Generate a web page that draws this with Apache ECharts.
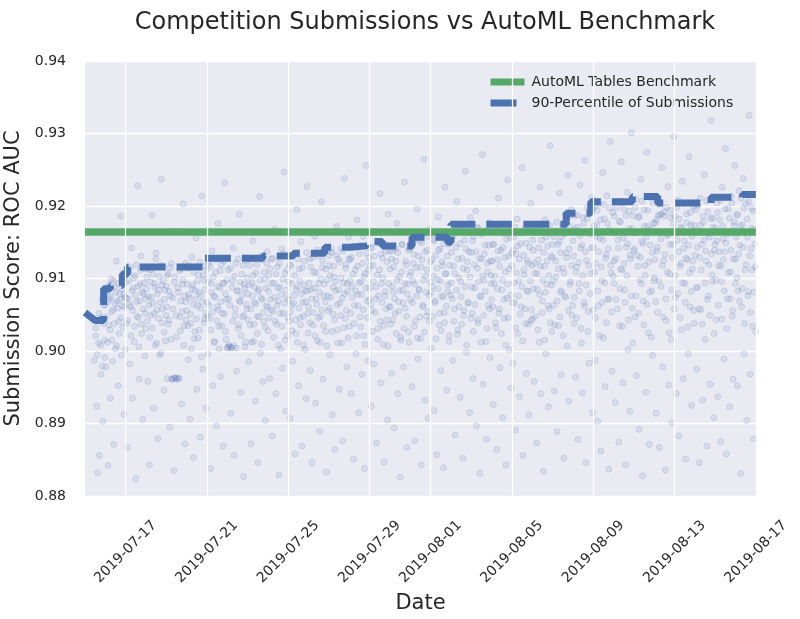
<!DOCTYPE html>
<html><head><meta charset="utf-8">
<script src="https://cdn.jsdelivr.net/npm/echarts@6/dist/echarts.min.js"></script>
<style>html,body{margin:0;padding:0;background:#fff}#chart{width:800px;height:619px}</style>
</head><body><div id="chart"></div>
<script>
const titleText = 'Competition Submissions vs AutoML Benchmark';
const xAxisTitle = 'Date';
const yAxisTitle = 'Submission Score: ROC AUC';
const xRange = ['2019-07-15', '2019-08-17'];
const xTickLabels = ['2019-07-17','2019-07-21','2019-07-25','2019-07-29','2019-08-01','2019-08-05','2019-08-09','2019-08-13','2019-08-17'];
const yMin = 0.88, yMax = 0.94, yStep = 0.01;
const benchmarkName = 'AutoML Tables Benchmark';
const benchmarkScore = 0.9164;
const percentileName = '90-Percentile of Submissions';
const percentile90 = [
 ['2019-07-15 00:00',0.9053],['2019-07-15 12:00',0.9042],['2019-07-15 22:00',0.9042],['2019-07-15 22:00',0.9086],
 ['2019-07-16 06:00',0.9086],['2019-07-16 06:00',0.9090],['2019-07-16 20:00',0.9090],['2019-07-16 20:00',0.9106],
 ['2019-07-17 02:00',0.9106],['2019-07-17 02:00',0.9116],['2019-07-20 19:00',0.9116],['2019-07-20 19:00',0.9128],
 ['2019-07-23 18:00',0.9128],['2019-07-23 18:00',0.9131],['2019-07-25 06:00',0.9131],['2019-07-25 06:00',0.9135],
 ['2019-07-26 19:00',0.9135],['2019-07-26 19:00',0.9143],['2019-07-28 01:00',0.9143],['2019-07-28 01:00',0.9145],
 ['2019-07-28 21:00',0.9145],['2019-07-28 21:00',0.9151],['2019-07-29 15:00',0.9151],['2019-07-29 15:00',0.9145],
 ['2019-07-31 02:00',0.9145],['2019-07-31 02:00',0.9157],['2019-08-01 20:00',0.9157],['2019-08-01 20:00',0.9150],
 ['2019-08-02 00:00',0.9150],['2019-08-02 00:00',0.9175],['2019-08-07 16:00',0.9175],['2019-08-07 16:00',0.9190],
 ['2019-08-08 21:00',0.9190],['2019-08-08 21:00',0.9206],['2019-08-10 22:00',0.9206],['2019-08-10 22:00',0.9213],
 ['2019-08-12 04:00',0.9213],['2019-08-12 04:00',0.9204],['2019-08-14 19:00',0.9204],['2019-08-14 19:00',0.9212],
 ['2019-08-16 08:00',0.9212],['2019-08-16 08:00',0.9216],['2019-08-17 00:00',0.9216]
];
const submissionDays = ['2019-07-15','2019-07-16','2019-07-17','2019-07-18','2019-07-19','2019-07-20','2019-07-21','2019-07-22','2019-07-23','2019-07-24','2019-07-25','2019-07-26','2019-07-27','2019-07-28','2019-07-29','2019-07-30','2019-07-31','2019-08-01','2019-08-02','2019-08-03','2019-08-04','2019-08-05','2019-08-06','2019-08-07','2019-08-08','2019-08-09','2019-08-10','2019-08-11','2019-08-12','2019-08-13','2019-08-14','2019-08-15','2019-08-16'];
// [hour of day, score] — one list per day
const submissionPoints = [
[[11,0.8987],[13,0.9032],[14,0.8924],[16,0.9011],[17,0.8856],[18,0.9046],[19,0.8968],[20,0.9071],[21,0.8903],[22,0.9038],[23,0.9015],[15,0.8832],
 [12.5,0.9021],[14.5,0.8995],[16.5,0.9052],[18.5,0.9008],[20.5,0.8979],[21.5,0.9043],[22.5,0.9063],[23.5,0.8991]],
[[0,0.9064],[1,0.8978],[2,0.9081],[3,0.8842],[4,0.9036],[5,0.9072],[6,0.8935],[7,0.9099],[8,0.9015],[9,0.9057],[10,0.8871],[11,0.9088],[12,0.9003],[13,0.9124],[14,0.9069],[15,0.8952],[16,0.9041],[17,0.9079],[18,0.9186],[19,0.8994],[20,0.9062],[21,0.9108],[22,0.8913],[23,0.9074],
 [0.5,0.9047],[1.5,0.9083],[2.5,0.9012],[3.5,0.9068],[4.5,0.9091],[5.5,0.9029],[6.5,0.9075],[7.5,0.9054],[8.5,0.8986],[9.5,0.9097],[10.5,0.9038],[11.5,0.9066],[12.5,0.9081],[13.5,0.9007],[14.5,0.9059],[15.5,0.9093],[16.5,0.9024],[17.5,0.9071],[18.5,0.9046],[19.5,0.9086],[20.5,0.9033],[21.5,0.9078],[22.5,0.9061],[23.5,0.9002]],
[[0,0.9095],[1,0.9038],[2,0.8867],[3,0.9072],[4,0.9109],[5,0.8982],[6,0.9061],[7,0.9142],[8,0.8935],[9,0.9087],[10,0.9013],[11,0.9104],[12,0.8824],[13,0.9068],[14,0.9228],[15,0.9046],[16,0.8961],[17,0.9092],[18,0.9131],[19,0.9024],[20,0.8906],[21,0.9079],[22,0.9113],[23,0.9052],
 [0.5,0.9073],[1.5,0.9108],[2.5,0.9042],[3.5,0.9097],[4.5,0.9064],[5.5,0.9115],[6.5,0.9021],[7.5,0.9083],[8.5,0.9056],[9.5,0.9101],[10.5,0.9034],[11.5,0.9077],[12.5,0.9119],[13.5,0.9048],[14.5,0.9089],[15.5,0.9006],[16.5,0.9069],[17.5,0.9112],[18.5,0.9037],[19.5,0.9081],[20.5,0.9058],[21.5,0.9094],[22.5,0.8993],[23.5,0.9072]],
[[0,0.9031],[1,0.9102],[2,0.8958],[3,0.9075],[4,0.8843],[5,0.9112],[6,0.9049],[7,0.9187],[8,0.9066],[9,0.8921],[10,0.9093],[11,0.9008],[12,0.9135],[13,0.9057],[14,0.8879],[15,0.9084],[16,0.8994],[17,0.9118],[18,0.9237],[19,0.9039],[20,0.9097],[21,0.8946],[22,0.9071],[23,0.9014],
 [0.5,0.9086],[1.5,0.9041],[2.5,0.9113],[3.5,0.9063],[4.5,0.9019],[5.5,0.9095],[6.5,0.9074],[7.5,0.9032],[8.5,0.9106],[9.5,0.9052],[10.5,0.9088],[11.5,0.9127],[12.5,0.9011],[13.5,0.9079],[14.5,0.9045],[15.5,0.9103],[16.5,0.9067],[17.5,0.8997],[18.5,0.9091],[19.5,0.9058],[20.5,0.9117],[21.5,0.9026],[22.5,0.9084],[23.5,0.9049]],
[[0,0.9089],[1,0.8962],[2,0.9107],[3,0.9043],[4,0.8895],[5,0.9076],[6,0.9121],[7,0.8961],[8,0.9058],[9,0.8835],[10,0.9102],[11,0.8963],[12,0.9019],[13,0.9165],[14,0.9081],[15,0.8962],[16,0.9047],[17,0.9113],[18,0.8927],[19,0.9092],[20,0.9203],[21,0.9035],[22,0.8872],[23,0.9068],
 [0.5,0.9061],[1.5,0.9104],[2.5,0.9037],[3.5,0.9082],[4.5,0.9115],[5.5,0.9016],[6.5,0.8961],[7.5,0.9073],[8.5,0.8963],[9.5,0.9095],[10.5,0.8962],[11.5,0.9049],[12.5,0.8961],[13.5,0.9087],[14.5,0.8963],[15.5,0.9111],[16.5,0.9028],[17.5,0.9069],[18.5,0.9054],[19.5,0.9098],[20.5,0.9008],[21.5,0.9076],[22.5,0.9121],[23.5,0.9043]],
[[0,0.9056],[1,0.9114],[2,0.8988],[3,0.9073],[4,0.8906],[5,0.9038],[6,0.9129],[7,0.9091],[8,0.8853],[9,0.9017],[10,0.9083],[11,0.9156],[12,0.8947],[13,0.9062],[14,0.9105],[15,0.9029],[16,0.8881],[17,0.9077],[18,0.9214],[19,0.8975],[20,0.9098],[21,0.9044],[22,0.9117],[23,0.8921],
 [0.5,0.9092],[1.5,0.9035],[2.5,0.9078],[3.5,0.9118],[4.5,0.9051],[5.5,0.9003],[6.5,0.9086],[7.5,0.9064],[8.5,0.9109],[9.5,0.9027],[10.5,0.9072],[11.5,0.9044],[12.5,0.9097],[13.5,0.9018],[14.5,0.9081],[15.5,0.9123],[16.5,0.9059],[17.5,0.8992],[18.5,0.9068],[19.5,0.9104],[20.5,0.9039],[21.5,0.9085],[22.5,0.9052],[23.5,0.9112]],
[[0,0.9067],[1,0.8996],[2,0.9121],[3,0.9045],[4,0.8838],[5,0.9093],[6,0.9138],[7,0.8952],[8,0.9076],[9,0.9012],[10,0.9109],[11,0.8897],[12,0.9061],[13,0.9176],[14,0.9034],[15,0.9087],[16,0.8965],[17,0.9119],[18,0.9052],[19,0.8869],[20,0.9094],[21,0.9232],[22,0.9027],[23,0.9071],
 [0.5,0.9048],[1.5,0.9096],[2.5,0.9063],[3.5,0.9117],[4.5,0.9029],[5.5,0.9081],[6.5,0.9054],[7.5,0.9102],[8.5,0.9013],[9.5,0.9074],[10.5,0.9126],[11.5,0.9042],[12.5,0.9089],[13.5,0.9057],[14.5,0.9003],[15.5,0.9111],[16.5,0.9068],[17.5,0.9035],[18.5,0.9093],[19.5,0.9124],[20.5,0.9051],[21.5,0.9079],[22.5,0.9016],[23.5,0.9098]],
[[0,0.9005],[1,0.9112],[2,0.9008],[3,0.9063],[4,0.8914],[5,0.9004],[6,0.9097],[7,0.9142],[8,0.8856],[9,0.9049],[10,0.9121],[11,0.8972],[12,0.9083],[13,0.9031],[14,0.9189],[15,0.9068],[16,0.8943],[17,0.9106],[18,0.9047],[19,0.8827],[20,0.9092],[21,0.9006],[22,0.9125],[23,0.9058],
 [0.5,0.9004],[1.5,0.9072],[2.5,0.9006],[3.5,0.9114],[4.5,0.9005],[5.5,0.9088],[6.5,0.9041],[7.5,0.9007],[8.5,0.9103],[9.5,0.9058],[10.5,0.9004],[11.5,0.9083],[12.5,0.9127],[13.5,0.9036],[14.5,0.9069],[15.5,0.9095],[16.5,0.9021],[17.5,0.9077],[18.5,0.9118],[19.5,0.9049],[20.5,0.9086],[21.5,0.9012],[22.5,0.9064],[23.5,0.9101]],
[[0,0.9079],[1,0.8985],[2,0.9118],[3,0.9036],[4,0.8872],[5,0.9094],[6,0.9152],[7,0.9013],[8,0.9067],[9,0.8931],[10,0.9108],[11,0.9048],[12,0.8846],[13,0.9085],[14,0.9213],[15,0.8997],[16,0.9073],[17,0.9126],[18,0.8958],[19,0.9041],[20,0.9099],[21,0.8904],[22,0.9062],[23,0.9137],
 [0.5,0.9043],[1.5,0.9091],[2.5,0.9127],[3.5,0.9058],[4.5,0.9012],[5.5,0.9076],[6.5,0.9104],[7.5,0.9037],[8.5,0.9088],[9.5,0.9065],[10.5,0.9119],[11.5,0.9024],[12.5,0.9082],[13.5,0.9047],[14.5,0.9098],[15.5,0.9131],[16.5,0.9009],[17.5,0.9071],[18.5,0.9053],[19.5,0.9109],[20.5,0.9033],[21.5,0.9087],[22.5,0.9121],[23.5,0.9061]],
[[0,0.9028],[1,0.9104],[2,0.8962],[3,0.9071],[4,0.9127],[5,0.8883],[6,0.9055],[7,0.9094],[8,0.9168],[9,0.8941],[10,0.9037],[11,0.9116],[12,0.9069],[13,0.8829],[14,0.9088],[15,0.9003],[16,0.9141],[17,0.8976],[18,0.9052],[19,0.9247],[20,0.9107],[21,0.8917],[22,0.9074],[23,0.9021],
 [0.5,0.9082],[1.5,0.9046],[2.5,0.9113],[3.5,0.9057],[4.5,0.9093],[5.5,0.9128],[6.5,0.9019],[7.5,0.9074],[8.5,0.9041],[9.5,0.9106],[10.5,0.9063],[11.5,0.9087],[12.5,0.9008],[13.5,0.9121],[14.5,0.9052],[15.5,0.9078],[16.5,0.9034],[17.5,0.9099],[18.5,0.9134],[19.5,0.9066],[20.5,0.9015],[21.5,0.9084],[22.5,0.9112],[23.5,0.9047]],
[[0,0.9096],[1,0.9041],[2,0.8907],[3,0.9118],[4,0.9063],[5,0.8986],[6,0.9132],[7,0.9077],[8,0.8858],[9,0.9024],[10,0.9195],[11,0.9089],[12,0.8952],[13,0.9113],[14,0.9046],[15,0.9151],[16,0.8869],[17,0.9067],[18,0.9008],[19,0.9124],[20,0.9083],[21,0.8934],[22,0.9227],[23,0.9052],
 [0.5,0.9071],[1.5,0.9119],[2.5,0.9054],[3.5,0.9093],[4.5,0.9028],[5.5,0.9131],[6.5,0.9066],[7.5,0.9104],[8.5,0.9043],[9.5,0.9085],[10.5,0.9012],[11.5,0.9127],[12.5,0.9059],[13.5,0.9097],[14.5,0.9036],[15.5,0.9079],[16.5,0.9115],[17.5,0.9048],[18.5,0.9091],[19.5,0.9002],[20.5,0.9068],[21.5,0.9136],[22.5,0.9083],[23.5,0.9025]],
[[0,0.9061],[1,0.9127],[2,0.8973],[3,0.9085],[4,0.8846],[5,0.9036],[6,0.9109],[7,0.9158],[8,0.8928],[9,0.9072],[10,0.9014],[11,0.9131],[12,0.9093],[13,0.8889],[14,0.9048],[15,0.9206],[16,0.9115],[17,0.8961],[18,0.9076],[19,0.9139],[20,0.9027],[21,0.8833],[22,0.9098],[23,0.9055],
 [0.5,0.9094],[1.5,0.9039],[2.5,0.9116],[3.5,0.9072],[4.5,0.9129],[5.5,0.9053],[6.5,0.9087],[7.5,0.9021],[8.5,0.9108],[9.5,0.9064],[10.5,0.9139],[11.5,0.9046],[12.5,0.9081],[13.5,0.9012],[14.5,0.9099],[15.5,0.9057],[16.5,0.9124],[17.5,0.9035],[18.5,0.9092],[19.5,0.9068],[20.5,0.9113],[21.5,0.9007],[22.5,0.9076],[23.5,0.9132]],
[[0,0.9118],[1,0.8995],[2,0.9074],[3,0.9136],[4,0.8912],[5,0.9051],[6,0.9102],[7,0.8864],[8,0.9083],[9,0.9172],[10,0.9029],[11,0.9127],[12,0.8947],[13,0.9066],[14,0.9141],[15,0.9011],[16,0.8876],[17,0.9094],[18,0.9238],[19,0.9045],[20,0.9119],[21,0.8978],[22,0.9082],[23,0.9157],
 [0.5,0.9059],[1.5,0.9104],[2.5,0.9141],[3.5,0.9027],[4.5,0.9088],[5.5,0.9117],[6.5,0.9043],[7.5,0.9096],[8.5,0.9132],[9.5,0.9064],[10.5,0.9011],[11.5,0.9085],[12.5,0.9123],[13.5,0.9049],[14.5,0.9101],[15.5,0.9073],[16.5,0.9138],[17.5,0.9032],[18.5,0.9079],[19.5,0.9114],[20.5,0.9056],[21.5,0.9093],[22.5,0.9018],[23.5,0.9127]],
[[0,0.9034],[1,0.9126],[2,0.8941],[3,0.9089],[4,0.9145],[5,0.8851],[6,0.9063],[7,0.9112],[8,0.8996],[9,0.9181],[10,0.9078],[11,0.8915],[12,0.9134],[13,0.9047],[14,0.9096],[15,0.8968],[16,0.9158],[17,0.9021],[18,0.8838],[19,0.9107],[20,0.9256],[21,0.9069],[22,0.8987],[23,0.9128],
 [0.5,0.9097],[1.5,0.9052],[2.5,0.9129],[3.5,0.9074],[4.5,0.9106],[5.5,0.9038],[6.5,0.9143],[7.5,0.9083],[8.5,0.9021],[9.5,0.9117],[10.5,0.9062],[11.5,0.9094],[12.5,0.9146],[13.5,0.9033],[14.5,0.9078],[15.5,0.9121],[16.5,0.9057],[17.5,0.9103],[18.5,0.9009],[19.5,0.9087],[20.5,0.9135],[21.5,0.9046],[22.5,0.9112],[23.5,0.9071]],
[[0,0.9087],[1,0.9143],[2,0.8924],[3,0.9056],[4,0.9118],[5,0.8982],[6,0.9164],[7,0.9072],[8,0.8873],[9,0.9105],[10,0.9031],[11,0.9149],[12,0.9217],[13,0.8956],[14,0.9093],[15,0.9128],[16,0.9009],[17,0.8847],[18,0.9076],[19,0.9137],[20,0.9043],[21,0.8905],[22,0.9189],[23,0.9061],
 [0.5,0.9118],[1.5,0.9064],[2.5,0.9142],[3.5,0.9027],[4.5,0.9096],[5.5,0.9131],[6.5,0.9053],[7.5,0.9088],[8.5,0.9149],[9.5,0.9016],[10.5,0.9076],[11.5,0.9112],[12.5,0.9041],[13.5,0.9134],[14.5,0.9067],[15.5,0.9101],[16.5,0.9035],[17.5,0.9145],[18.5,0.9082],[19.5,0.9058],[20.5,0.9123],[21.5,0.9007],[22.5,0.9093],[23.5,0.9138]],
[[0,0.9113],[1,0.9037],[2,0.8969],[3,0.9138],[4,0.9081],[5,0.8894],[6,0.9052],[7,0.9124],[8,0.9176],[9,0.8941],[10,0.9068],[11,0.9102],[12,0.8826],[13,0.9015],[14,0.9147],[15,0.9084],[16,0.8978],[17,0.9233],[18,0.9059],[19,0.9119],[20,0.8867],[21,0.9092],[22,0.9026],[23,0.9141],
 [0.5,0.9061],[1.5,0.9127],[2.5,0.9089],[3.5,0.9043],[4.5,0.9116],[5.5,0.9072],[6.5,0.9141],[7.5,0.9024],[8.5,0.9098],[9.5,0.9136],[10.5,0.9055],[11.5,0.9083],[12.5,0.9019],[13.5,0.9109],[14.5,0.9147],[15.5,0.9066],[16.5,0.9031],[17.5,0.9093],[18.5,0.9124],[19.5,0.9048],[20.5,0.9079],[21.5,0.9139],[22.5,0.9012],[23.5,0.9104]],
[[0,0.9071],[1,0.9148],[2,0.8951],[3,0.9097],[4,0.9133],[5,0.8876],[6,0.9042],[7,0.9115],[8,0.9196],[9,0.8989],[10,0.9084],[11,0.9152],[12,0.9017],[13,0.8843],[14,0.9126],[15,0.9061],[16,0.9264],[17,0.8932],[18,0.9103],[19,0.9048],[20,0.9139],[21,0.8907],[22,0.9077],[23,0.9168],
 [0.5,0.9109],[1.5,0.9143],[2.5,0.9067],[3.5,0.9121],[4.5,0.9034],[5.5,0.9092],[6.5,0.9154],[7.5,0.9076],[8.5,0.9018],[9.5,0.9131],[10.5,0.9085],[11.5,0.9047],[12.5,0.9116],[13.5,0.9149],[14.5,0.9063],[15.5,0.9098],[16.5,0.9026],[17.5,0.9137],[18.5,0.9081],[19.5,0.9112],[20.5,0.9054],[21.5,0.9158],[22.5,0.9041],[23.5,0.9095]],
[[0,0.9123],[1,0.9004],[2,0.9089],[3,0.9154],[4,0.8918],[5,0.9067],[6,0.9132],[7,0.8857],[8,0.9098],[9,0.9185],[10,0.9036],[11,0.9141],[12,0.8973],[13,0.9076],[14,0.9118],[15,0.8839],[16,0.9053],[17,0.9226],[18,0.9107],[19,0.8946],[20,0.9082],[21,0.9147],[22,0.9021],[23,0.9164],
 [0.5,0.9081],[1.5,0.9126],[2.5,0.9048],[3.5,0.9103],[4.5,0.9152],[5.5,0.9069],[6.5,0.9017],[7.5,0.9114],[8.5,0.9086],[9.5,0.9139],[10.5,0.9052],[11.5,0.9097],[12.5,0.9028],[13.5,0.9123],[14.5,0.9074],[15.5,0.9148],[16.5,0.9039],[17.5,0.9106],[18.5,0.9062],[19.5,0.9131],[20.5,0.9091],[21.5,0.9013],[22.5,0.9118],[23.5,0.9077]],
[[0,0.9094],[1,0.9162],[2,0.8987],[3,0.9117],[4,0.9058],[5,0.8884],[6,0.9143],[7,0.9206],[8,0.9029],[9,0.9101],[10,0.9171],[11,0.8936],[12,0.9075],[13,0.9128],[14,0.8852],[15,0.9049],[16,0.9153],[17,0.9248],[18,0.8998],[19,0.9112],[20,0.9067],[21,0.9137],[22,0.8915],[23,0.9184],
 [0.5,0.9136],[1.5,0.9072],[2.5,0.9158],[3.5,0.9041],[4.5,0.9107],[5.5,0.9169],[6.5,0.9084],[7.5,0.9023],[8.5,0.9127],[9.5,0.9061],[10.5,0.9148],[11.5,0.9096],[12.5,0.9037],[13.5,0.9172],[14.5,0.9114],[15.5,0.9056],[16.5,0.9089],[17.5,0.9141],[18.5,0.9008],[19.5,0.9123],[20.5,0.9066],[21.5,0.9163],[22.5,0.9102],[23.5,0.9045]],
[[0,0.9136],[1,0.9052],[2,0.8962],[3,0.9158],[4,0.9087],[5,0.9193],[6,0.8897],[7,0.9114],[8,0.9039],[9,0.9169],[10,0.8831],[11,0.9076],[12,0.9127],[13,0.9271],[14,0.8954],[15,0.9098],[16,0.9146],[17,0.9013],[18,0.8878],[19,0.9121],[20,0.9063],[21,0.9177],[22,0.8991],[23,0.9104],
 [0.5,0.9088],[1.5,0.9152],[2.5,0.9027],[3.5,0.9119],[4.5,0.9064],[5.5,0.9137],[6.5,0.9171],[7.5,0.9043],[8.5,0.9096],[9.5,0.9128],[10.5,0.9075],[11.5,0.9012],[12.5,0.9161],[13.5,0.9103],[14.5,0.9049],[15.5,0.9134],[16.5,0.9082],[17.5,0.9167],[18.5,0.9031],[19.5,0.9109],[20.5,0.9146],[21.5,0.9058],[22.5,0.9124],[23.5,0.9093]],
[[0,0.9071],[1,0.9147],[2,0.8926],[3,0.9093],[4,0.9168],[5,0.9032],[6,0.8864],[7,0.9126],[8,0.9211],[9,0.9058],[10,0.8977],[11,0.9139],[12,0.9084],[13,0.8908],[14,0.9162],[15,0.9045],[16,0.9109],[17,0.8843],[18,0.9073],[19,0.9236],[20,0.9131],[21,0.9002],[22,0.9156],[23,0.8949],
 [0.5,0.9124],[1.5,0.9061],[2.5,0.9147],[3.5,0.9103],[4.5,0.9039],[5.5,0.9172],[6.5,0.9086],[7.5,0.9138],[8.5,0.9052],[9.5,0.9117],[10.5,0.9164],[11.5,0.9024],[12.5,0.9098],[13.5,0.9143],[14.5,0.9071],[15.5,0.9129],[16.5,0.9008],[17.5,0.9154],[18.5,0.9092],[19.5,0.9046],[20.5,0.9113],[21.5,0.9168],[22.5,0.9077],[23.5,0.9135]],
[[0,0.9118],[1,0.8983],[2,0.9157],[3,0.9066],[4,0.8891],[5,0.9134],[6,0.9182],[7,0.9024],[8,0.9097],[9,0.8937],[10,0.9148],[11,0.9061],[12,0.9253],[13,0.8856],[14,0.9112],[15,0.9169],[16,0.9038],[17,0.8969],[18,0.9125],[19,0.9082],[20,0.8912],[21,0.9143],[22,0.9204],[23,0.9057],
 [0.5,0.9067],[1.5,0.9139],[2.5,0.9094],[3.5,0.9171],[4.5,0.9032],[5.5,0.9108],[6.5,0.9145],[7.5,0.9076],[8.5,0.9127],[9.5,0.9051],[10.5,0.9163],[11.5,0.9089],[12.5,0.9014],[13.5,0.9132],[14.5,0.9105],[15.5,0.9058],[16.5,0.9149],[17.5,0.9083],[18.5,0.9121],[19.5,0.9037],[20.5,0.9166],[21.5,0.9097],[22.5,0.9042],[23.5,0.9118]],
[[0,0.9044],[1,0.9139],[2,0.8958],[3,0.9107],[4,0.9172],[5,0.8873],[6,0.9085],[7,0.9126],[8,0.9012],[9,0.9226],[10,0.8941],[11,0.9153],[12,0.9069],[13,0.8834],[14,0.9117],[15,0.9181],[16,0.8996],[17,0.9092],[18,0.9145],[19,0.8923],[20,0.9058],[21,0.9283],[22,0.9131],[23,0.9027],
 [0.5,0.9153],[1.5,0.9086],[2.5,0.9121],[3.5,0.9048],[4.5,0.9164],[5.5,0.9107],[6.5,0.9029],[7.5,0.9142],[8.5,0.9078],[9.5,0.9117],[10.5,0.9169],[11.5,0.9053],[12.5,0.9098],[13.5,0.9136],[14.5,0.9015],[15.5,0.9081],[16.5,0.9157],[17.5,0.9124],[18.5,0.9062],[19.5,0.9104],[20.5,0.9173],[21.5,0.9039],[22.5,0.9091],[23.5,0.9147]],
[[0,0.9129],[1,0.9063],[2,0.8945],[3,0.9166],[4,0.9102],[5,0.8889],[6,0.9147],[7,0.9035],[8,0.9218],[9,0.9081],[10,0.8967],[11,0.9158],[12,0.9114],[13,0.8852],[14,0.9076],[15,0.9189],[16,0.9135],[17,0.9007],[18,0.9242],[19,0.8931],[20,0.9172],[21,0.9096],[22,0.9195],[23,0.9049],
 [0.5,0.9097],[1.5,0.9158],[2.5,0.9036],[3.5,0.9124],[4.5,0.9178],[5.5,0.9069],[6.5,0.9113],[7.5,0.9151],[8.5,0.9047],[9.5,0.9136],[10.5,0.9083],[11.5,0.9172],[12.5,0.9021],[13.5,0.9108],[14.5,0.9162],[15.5,0.9074],[16.5,0.9129],[17.5,0.9184],[18.5,0.9056],[19.5,0.9141],[20.5,0.9092],[21.5,0.9187],[22.5,0.9118],[23.5,0.9063]],
[[0,0.9152],[1,0.9038],[2,0.9187],[3,0.8964],[4,0.9116],[5,0.9171],[6,0.8878],[7,0.9093],[8,0.9229],[9,0.9142],[10,0.9011],[11,0.8942],[12,0.9184],[13,0.9067],[14,0.9263],[15,0.8846],[16,0.9125],[17,0.9198],[18,0.9054],[19,0.8983],[20,0.9161],[21,0.9107],[22,0.9212],[23,0.8915],
 [0.5,0.9131],[1.5,0.9074],[2.5,0.9168],[3.5,0.9109],[4.5,0.9046],[5.5,0.9187],[6.5,0.9122],[7.5,0.9083],[8.5,0.9159],[9.5,0.9031],[10.5,0.9146],[11.5,0.9104],[12.5,0.9176],[13.5,0.9062],[14.5,0.9137],[15.5,0.9091],[16.5,0.9183],[17.5,0.9027],[18.5,0.9118],[19.5,0.9165],[20.5,0.9079],[21.5,0.9142],[22.5,0.9196],[23.5,0.9057]],
[[0,0.9143],[1,0.9198],[2,0.8987],[3,0.9121],[4,0.9174],[5,0.8903],[6,0.9062],[7,0.9203],[8,0.9156],[9,0.8862],[10,0.9097],[11,0.9246],[12,0.9018],[13,0.9182],[14,0.8951],[15,0.9133],[16,0.9214],[17,0.9071],[18,0.8837],[19,0.9167],[20,0.9289],[21,0.9108],[22,0.8972],[23,0.9191],
 [0.5,0.9172],[1.5,0.9109],[2.5,0.9046],[3.5,0.9158],[4.5,0.9194],[5.5,0.9083],[6.5,0.9137],[7.5,0.9021],[8.5,0.9181],[9.5,0.9116],[10.5,0.9067],[11.5,0.9153],[12.5,0.9202],[13.5,0.9094],[14.5,0.9128],[15.5,0.9039],[16.5,0.9176],[17.5,0.9141],[18.5,0.9072],[19.5,0.9197],[20.5,0.9118],[21.5,0.9054],[22.5,0.9164],[23.5,0.9103]],
[[0,0.9124],[1,0.9186],[2,0.8929],[3,0.9071],[4,0.9207],[5,0.9153],[6,0.8874],[7,0.9035],[8,0.9178],[9,0.9261],[10,0.9112],[11,0.8956],[12,0.9196],[13,0.9084],[14,0.8843],[15,0.9143],[16,0.9219],[17,0.9002],[18,0.9168],[19,0.8917],[20,0.9127],[21,0.9301],[22,0.9059],[23,0.9187],
 [0.5,0.9093],[1.5,0.9163],[2.5,0.9127],[3.5,0.9198],[4.5,0.9058],[5.5,0.9142],[6.5,0.9179],[7.5,0.9086],[8.5,0.9113],[9.5,0.9204],[10.5,0.9034],[11.5,0.9156],[12.5,0.9121],[13.5,0.9067],[14.5,0.9187],[15.5,0.9104],[16.5,0.9148],[17.5,0.9043],[18.5,0.9193],[19.5,0.9132],[20.5,0.9076],[21.5,0.9169],[22.5,0.9011],[23.5,0.9138]],
[[0,0.9163],[1,0.9047],[2,0.9209],[3,0.8966],[4,0.9132],[5,0.9184],[6,0.8892],[7,0.9098],[8,0.9237],[9,0.9151],[10,0.8828],[11,0.9069],[12,0.9195],[13,0.9118],[14,0.8943],[15,0.9274],[16,0.9172],[17,0.9025],[18,0.8871],[19,0.9146],[20,0.9211],[21,0.9083],[22,0.8994],[23,0.9176],
 [0.5,0.9141],[1.5,0.9198],[2.5,0.9076],[3.5,0.9163],[4.5,0.9117],[5.5,0.9052],[6.5,0.9186],[7.5,0.9129],[8.5,0.9093],[9.5,0.9207],[10.5,0.9148],[11.5,0.9036],[12.5,0.9172],[13.5,0.9104],[14.5,0.9157],[15.5,0.9064],[16.5,0.9194],[17.5,0.9123],[18.5,0.9081],[19.5,0.9168],[20.5,0.9019],[21.5,0.9136],[22.5,0.9203],[23.5,0.9097]],
[[0,0.9101],[1,0.9177],[2,0.8914],[3,0.9138],[4,0.9053],[5,0.9202],[6,0.8867],[7,0.9164],[8,0.9089],[9,0.9253],[10,0.8978],[11,0.9125],[12,0.9192],[13,0.8836],[14,0.9042],[15,0.9159],[16,0.9227],[17,0.8953],[18,0.9106],[19,0.9184],[20,0.9016],[21,0.8901],[22,0.9147],[23,0.9296],
 [0.5,0.9126],[1.5,0.9068],[2.5,0.9181],[3.5,0.9143],[4.5,0.9187],[5.5,0.9097],[6.5,0.9188],[7.5,0.9154],[8.5,0.9189],[9.5,0.9118],[10.5,0.9047],[11.5,0.9186],[12.5,0.9133],[13.5,0.9072],[14.5,0.9198],[15.5,0.9109],[16.5,0.9161],[17.5,0.9025],[18.5,0.9147],[19.5,0.9194],[20.5,0.9084],[21.5,0.9129],[22.5,0.9176],[23.5,0.9058]],
[[0,0.9186],[1,0.9074],[2,0.8941],[3,0.9153],[4,0.9208],[5,0.8883],[6,0.9117],[7,0.9171],[8,0.9029],[9,0.9234],[10,0.8962],[11,0.9142],[12,0.9093],[13,0.8851],[14,0.9189],[15,0.9126],[16,0.8996],[17,0.9268],[18,0.9061],[19,0.9174],[20,0.8925],[21,0.9113],[22,0.9199],[23,0.9038],
 [0.5,0.9104],[1.5,0.9163],[2.5,0.9198],[3.5,0.9079],[4.5,0.9137],[5.5,0.9182],[6.5,0.9046],[7.5,0.9121],[8.5,0.9169],[9.5,0.9094],[10.5,0.9203],[11.5,0.9152],[12.5,0.9067],[13.5,0.9128],[14.5,0.9177],[15.5,0.9033],[16.5,0.9146],[17.5,0.9108],[18.5,0.9191],[19.5,0.9082],[20.5,0.9158],[21.5,0.9124],[22.5,0.9056],[23.5,0.9173]],
[[0,0.9132],[1,0.9195],[2,0.8975],[3,0.9088],[4,0.9163],[5,0.8846],[6,0.9211],[7,0.9057],[8,0.9147],[9,0.8932],[10,0.9178],[11,0.9243],[12,0.9016],[13,0.9124],[14,0.8869],[15,0.9192],[16,0.9076],[17,0.9157],[18,0.8954],[19,0.9318],[20,0.9105],[21,0.9183],[22,0.8908],[23,0.9139],
 [0.5,0.9166],[1.5,0.9087],[2.5,0.9143],[3.5,0.9201],[4.5,0.9058],[5.5,0.9129],[6.5,0.9174],[7.5,0.9112],[8.5,0.9037],[9.5,0.9186],[10.5,0.9153],[11.5,0.9094],[12.5,0.9138],[13.5,0.9207],[14.5,0.9071],[15.5,0.9162],[16.5,0.9119],[17.5,0.9049],[18.5,0.9183],[19.5,0.9134],[20.5,0.9096],[21.5,0.9171],[22.5,0.9024],[23.5,0.9147]],
[[0,0.9169],[1,0.9043],[2,0.9204],[3,0.8937],[4,0.9118],[5,0.9181],[6,0.8875],[7,0.9096],[8,0.9226],[9,0.9154],[10,0.8989],[11,0.9137],[12,0.9279],[13,0.8858],[14,0.9072],[15,0.9196],[16,0.9164],[17,0.8923],[18,0.9109],[19,0.9213],[20,0.9048],[21,0.8961],[22,0.9173],[23,0.9256],
 [0.5,0.9098],[1.5,0.9152],[2.5,0.9191],[3.5,0.9063],[4.5,0.9137],[5.5,0.9208],[6.5,0.9117],[7.5,0.9044],[8.5,0.9172],[9.5,0.9126],[10.5,0.9083],[11.5,0.9196],[12.5,0.9149],[13.5,0.9031],[14.5,0.9161],[15.5,0.9108],[16.5,0.9183],[17.5,0.9072],[18.5,0.9139],[19.5,0.9204],[20.5,0.9056],[21.5,0.9127],[22.5,0.9178],[23.5,0.9093]],
[[0,0.9127],[1,0.9188],[2,0.8952],[3,0.9083],[4,0.9221],[5,0.9146],[6,0.8831],[7,0.9061],[8,0.9174],[9,0.9238],[10,0.8996],[11,0.9112],[12,0.9203],[13,0.8904],[14,0.9157],[15,0.9082],[16,0.9325],[17,0.8968],[18,0.9141],[19,0.9197],[20,0.9034],[21,0.8879],[22,0.9168],[23,0.9116],
 [0.5,0.9157],[1.5,0.9101],[2.5,0.9188],[3.5,0.9134],[4.5,0.9069],[5.5,0.9172],[6.5,0.9211],[7.5,0.9086],[8.5,0.9143],[9.5,0.9197],[10.5,0.9038],[11.5,0.9164],[12.5,0.9119],[13.5,0.9182],[14.5,0.9076],[15.5,0.9206],[16.5,0.9131],[17.5,0.9053],[18.5,0.9169],[19.5,0.9112],[20.5,0.9193],[21.5,0.9081],[22.5,0.9148],[23.5,0.9027]]
];

const FONT = 'DejaVu Sans', INK = '#262626';
const toTime = s => +echarts.time.parse(s);
const xMin = toTime(xRange[0]), xMax = toTime(xRange[1]);
const tickTimes = xTickLabels.map(toTime);
const scatterData = [];
submissionDays.forEach((d, i) => {
  const base = toTime(d);
  submissionPoints[i].forEach(p => scatterData.push([base + p[0] * 3600000, p[1]]));
});
const percentileData = percentile90.map(p => [toTime(p[0]), p[1]]);

const chart = echarts.init(document.getElementById('chart'), null, {renderer: 'canvas'});
chart.setOption({
  animation: false,
  backgroundColor: '#ffffff',
  textStyle: {fontFamily: FONT, color: INK},
  title: {text: titleText, left: 420, top: 6, textAlign: 'center',
    textStyle: {fontFamily: FONT, fontSize: 24, fontWeight: 'normal', color: INK}},
  grid: {left: 85, right: 44, top: 61, bottom: 123, show: true, backgroundColor: '#EAEAF2', borderWidth: 0,
    containLabel: false, outerBoundsMode: 'none'},
  legend: {data: [benchmarkName, percentileName], orient: 'vertical', left: 487, top: 75, padding: 0,
    itemWidth: 34, itemHeight: 14, itemGap: 7, selectedMode: false,
    itemStyle: {opacity: 0}, lineStyle: {width: 7},
    textStyle: {fontFamily: FONT, fontSize: 14, color: INK, padding: [0, 0, 0, 2]}},
  xAxis: {type: 'value', min: xMin, max: xMax, name: xAxisTitle, nameLocation: 'middle', nameGap: 90,
    nameTextStyle: {fontFamily: FONT, fontSize: 21, color: INK},
    axisLine: {show: false}, axisTick: {show: false}, splitLine: {show: false},
    axisLabel: {customValues: tickTimes, formatter: v => echarts.time.format(v, '{yyyy}-{MM}-{dd}', false),
      rotate: 45, align: 'center', verticalAlign: 'middle', margin: 56, fontFamily: FONT, fontSize: 14, color: INK,
      showMinLabel: true, showMaxLabel: true, hideOverlap: false}},
  yAxis: {type: 'value', min: yMin, max: yMax, interval: yStep, name: yAxisTitle, nameLocation: 'middle', nameGap: 57,
    nameTextStyle: {fontFamily: FONT, fontSize: 21, color: INK},
    axisLine: {show: false}, axisTick: {show: false},
    splitLine: {show: true, lineStyle: {color: '#ffffff', width: 1.3}},
    axisLabel: {formatter: v => v.toFixed(2), margin: 19, fontFamily: FONT, fontSize: 14, color: INK}},
  series: [
    {type: 'line', name: '_grid', data: [], silent: true, z: 1,
      markLine: {silent: true, symbol: 'none', label: {show: false}, animation: false,
        lineStyle: {color: '#ffffff', width: 1.3, type: 'solid'},
        data: tickTimes.map(t => ({xAxis: t}))}},
    {type: 'scatter', name: 'Submissions', data: scatterData, symbolSize: 6, z: 2, silent: true,
      itemStyle: {color: 'rgba(76,114,176,0.15)', borderColor: 'rgba(76,114,176,0.27)', borderWidth: 0.8}},
    {type: 'line', name: benchmarkName, data: [[xMin, benchmarkScore], [xMax, benchmarkScore]], symbol: 'none', z: 3,
      lineStyle: {color: '#55A868', width: 7.5}, itemStyle: {color: '#55A868'}},
    {type: 'line', name: percentileName, data: percentileData, symbol: 'none', z: 4,
      lineStyle: {color: '#4C72B0', width: 7, type: [26, 11]}, itemStyle: {color: '#4C72B0'}}
  ]
});
</script></body></html>
